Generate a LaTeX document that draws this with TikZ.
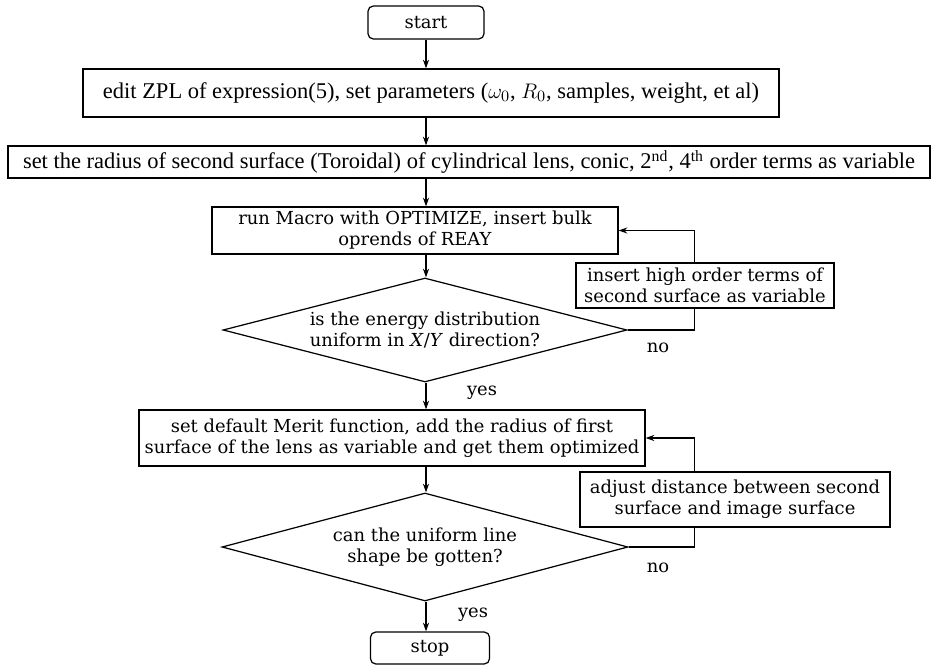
\documentclass[tikz,border=0pt]{standalone}
\usepackage{fontspec}
\setmainfont{DejaVu Serif}
\newfontfamily\narrowfont{Liberation Serif}
\usepackage{amsmath}
\usetikzlibrary{shapes.geometric,arrows.meta}

\tikzset{
  box/.style={draw, line width=0.7pt, inner sep=0pt, align=center, font=\fontsize{10.2}{12}\selectfont},
  endbox/.style={box, rounded corners=3pt},
  widebox/.style={box, font=\narrowfont\fontsize{12.8}{14}\selectfont},
  test/.style={box, diamond, aspect=3.9, inner xsep=-1.5cm, inner ysep=-0.2cm},
  line/.style={line width=0.6pt},
  arr/.style={line, -{Stealth[length=5pt,width=3.5pt]}},
  lbl/.style={font=\fontsize{10.2}{12}\selectfont},
}

\begin{document}
\begin{tikzpicture}
	\useasboundingbox (0,0) rectangle (18.76,13.30) ;
	% main column
	\node[endbox, minimum width=2.32cm, minimum height=0.66cm] (start) at (8.52,12.85) {start} ;
	\node[widebox, minimum width=13.92cm, minimum height=0.96cm] (edit) at (8.62,11.44) {edit ZPL of expression(5), set parameters ($\omega_0$, $R_0$, samples, weight, et al)} ;
	\node[widebox, minimum width=18.44cm, minimum height=0.64cm] (radius) at (9.38,10.06) {set the radius of second surface (Toroidal) of cylindrical lens, conic, 2\textsuperscript{nd}, 4\textsuperscript{th} order terms as variable} ;
	\node[box, minimum width=8.12cm, minimum height=0.94cm] (macro) at (8.30,8.69) {run Macro with OPTIMIZE, insert bulk\\oprends of REAY} ;
	\node[test, minimum width=8.08cm, minimum height=2.08cm] (uni) at (8.50,6.70) {is the energy distribution\\uniform in \textit{X}/\textit{Y} direction?} ;
	\node[box, minimum width=10.12cm, minimum height=1.12cm] (merit) at (7.84,4.54) {set default Merit function, add the radius of first\\surface of the lens as variable and get them optimized} ;
	\node[test, minimum width=8.12cm, minimum height=2.16cm] (shape) at (8.50,2.36) {can the uniform line\\shape be gotten?} ;
	\node[endbox, minimum width=2.38cm, minimum height=0.64cm] (stop) at (8.60,0.34) {stop} ;
	% side boxes
	\node[box, minimum width=5.16cm, minimum height=0.90cm] (high) at (14.10,7.59) {insert high order terms of\\second surface as variable} ;
	\node[box, minimum width=6.20cm, minimum height=1.10cm] (adjust) at (14.70,3.31) {adjust distance between second\\surface and image surface} ;
	% answers
	\node[lbl] (no1) at (13.16,6.34) {no} ;
	\node[lbl] (yes1) at (9.64,5.44) {yes} ;
	\node[lbl] (no2) at (13.16,1.94) {no} ;
	\node[lbl] (yes2) at (9.46,1.00) {yes} ;
	\coordinate (ax) at (8.52,0) ;
	\coordinate (loop) at (13.89,0) ;
	% arrows
	\draw[arr] (start.south) -- (start.south |- edit.north) ;
	\draw[arr] (edit.south -| ax) -- (radius.north -| ax) ;
	\draw[arr] (radius.south -| ax) -- (macro.north -| ax) ;
	\draw[arr] (macro.south -| ax) -- (uni.north -| ax) ;
	\draw[arr] (uni.south -| ax) -- (merit.north -| ax) ;
	\draw[arr] (merit.south -| ax) -- (shape.north -| ax) ;
	\draw[arr] (shape.south -| ax) -- (stop.north -| ax) ;
	\draw[line] (uni.east) -| (high.south -| loop) ;
	\draw[arr] (high.north -| loop) |- (macro.east) ;
	\draw[line] (shape.east) -| (adjust.south -| loop) ;
	\draw[arr] (adjust.north -| loop) |- (merit.east) ;
\end{tikzpicture}
\end{document}
